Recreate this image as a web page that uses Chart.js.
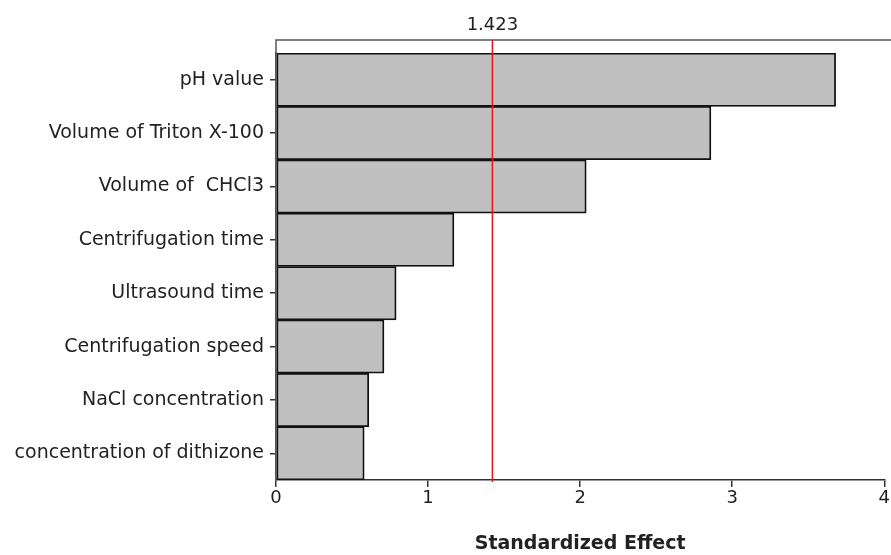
<!DOCTYPE html>
<html>
<head>
<meta charset="utf-8">
<script src="https://cdn.jsdelivr.net/npm/chart.js@4"></script>
<style>
  html, body { margin: 0; padding: 0; background: #fff; }
  #wrap { width: 891px; height: 555px; }
</style>
</head>
<body>
<div id="wrap"><canvas id="paretoChart" width="891" height="555"></canvas></div>
<script>
// factors, ordered by effect size
const factors = [
  'pH value',
  'Volume of Triton X-100',
  'Volume of  CHCl3',
  'Centrifugation time',
  'Ultrasound time',
  'Centrifugation speed',
  'NaCl concentration',
  'concentration of dithizone'
];
const effects = [3.68, 2.86, 2.04, 1.17, 0.79, 0.71, 0.61, 0.58];
const refLine = 1.423;
const xTicks = [0, 1, 2, 3, 4];

const fontFamily = 'DejaVu Sans';

// frame above the bars + the red reference line with its label
const framePlugin = {
  id: 'framePlugin',
  afterDatasetsDraw(chart) {
    const { ctx, chartArea, scales } = chart;
    const frameTop = chartArea.top - 13;
    ctx.save();
    ctx.strokeStyle = '#555';
    ctx.lineWidth = 1.5;
    ctx.beginPath();
    ctx.moveTo(chartArea.left, chartArea.bottom);
    ctx.lineTo(chartArea.left, frameTop);
    ctx.lineTo(chart.width, frameTop);
    ctx.stroke();

    const x = scales.x.getPixelForValue(refLine);
    ctx.strokeStyle = '#e8141c';
    ctx.lineWidth = 1.5;
    ctx.beginPath();
    ctx.moveTo(x, frameTop);
    ctx.lineTo(x, chartArea.bottom + 2);
    ctx.stroke();

    ctx.fillStyle = '#222';
    ctx.font = '18px ' + fontFamily;
    ctx.textAlign = 'center';
    ctx.textBaseline = 'middle';
    ctx.fillText(refLine.toFixed(3), x, frameTop - 15);
    ctx.restore();
  }
};

new Chart(document.getElementById('paretoChart'), {
  type: 'bar',
  data: {
    labels: factors,
    datasets: [{
      data: effects,
      backgroundColor: '#c0c0c0',
      borderColor: '#111',
      borderWidth: 1.8,
      borderSkipped: false,
      barPercentage: 1,
      categoryPercentage: 1
    }]
  },
  options: {
    indexAxis: 'y',
    responsive: false,
    animation: false,
    layout: { padding: { top: 53, right: 3, left: 0, bottom: 0 } },
    plugins: {
      legend: { display: false },
      tooltip: { enabled: false }
    },
    scales: {
      x: {
        min: 0,
        max: 4,
        afterFit(scale) { scale.height = 75; },
        afterBuildTicks(scale) { scale.ticks = xTicks.map(v => ({ value: v })); },
        grid: { drawOnChartArea: false, drawTicks: true, tickLength: 7, color: '#333', lineWidth: 1.5 },
        border: { display: true, color: '#333', width: 1.5 },
        ticks: { color: '#222', font: { family: fontFamily, size: 18 }, padding: 1, maxRotation: 0 },
        title: {
          display: true,
          text: 'Standardized Effect',
          color: '#222',
          font: { family: fontFamily, size: 19, weight: 'bold' },
          padding: { top: 0, bottom: 0 }
        }
      },
      y: {
        afterFit(scale) { scale.width = 276; },
        grid: { offset: false, drawOnChartArea: false, drawTicks: true, tickLength: 6, color: '#333', lineWidth: 1.5 },
        border: { display: true, color: '#555', width: 1.5 },
        ticks: { color: '#222', font: { family: fontFamily, size: 19 }, padding: 6, autoSkip: false }
      }
    }
  },
  plugins: [framePlugin]
});
</script>
</body>
</html>
